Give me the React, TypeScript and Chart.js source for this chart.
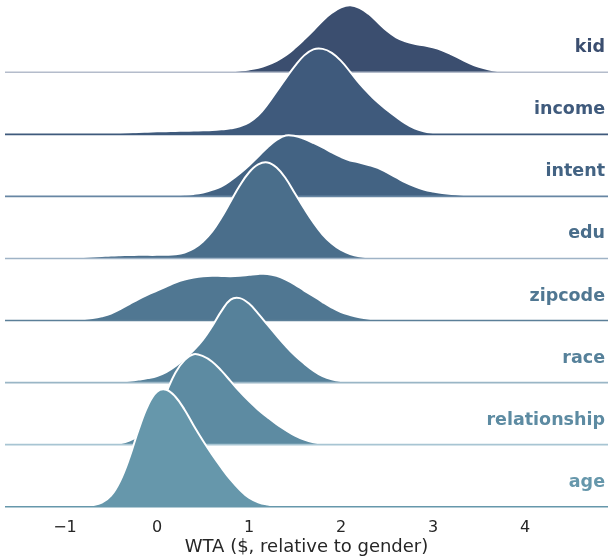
import { useEffect, useRef } from 'react';
import { Chart, registerables } from 'chart.js';

Chart.register(...registerables);

const _ = null;

const X_GRID = [
  -1.6, -1.5, -1.4, -1.3, -1.2, -1.1, -1.0, -0.9, -0.8, -0.7,
  -0.6, -0.5, -0.4, -0.3, -0.2, -0.1, 0.0, 0.1, 0.2, 0.3,
  0.4, 0.5, 0.6, 0.7, 0.8, 0.9, 1.0, 1.1, 1.2, 1.3,
  1.4, 1.5, 1.6, 1.7, 1.8, 1.9, 2.0, 2.1, 2.2, 2.3,
  2.4, 2.5, 2.6, 2.7, 2.8, 2.9, 3.0, 3.1, 3.2, 3.3,
  3.4, 3.5, 3.6, 3.7, 3.8, 3.9, 4.0, 4.1, 4.2, 4.3,
  4.4, 4.5, 4.6, 4.7, 4.8,
];

const X_TICKS = [-1, 0, 1, 2, 3, 4];
const X_MIN = -1.652;
const X_MAX = 4.902;

const LABELS = ['kid', 'income', 'intent', 'edu', 'zipcode', 'race', 'relationship', 'age'];
const COLORS = ['#3b4e6f', '#3f5a7c', '#436383', '#4a6e8b', '#507792', '#56819a', '#5d8ba2', '#6697ab'];
const BASELINE_COLORS = ['#b4bccb', '#3f5a7c', '#6786a3', '#9fb3c6', '#5b7f98', '#9ab6c6', '#a8c5d3', '#6697ab'];

// density estimates on X_GRID (null = outside KDE support)
const KID = [
  _, _, _, _, _, _, _, _, _, _,
  _, _, _, _, _, _, _, _, 0, 0.001,
  0.002, 0.003, 0.005, 0.008, 0.012, 0.019, 0.029, 0.046, 0.075, 0.115,
  0.17, 0.245, 0.33, 0.42, 0.515, 0.595, 0.65, 0.67, 0.645, 0.585,
  0.50, 0.415, 0.35, 0.31, 0.285, 0.27, 0.25, 0.22, 0.18, 0.135,
  0.09, 0.055, 0.03, 0.014, 0.006, 0.003, 0.001, 0.0005, 0, _,
  _, _, _, _, _,
];

const INCOME = [
  _, _, _, _, _, _, _, _, _, 0,
  0.004, 0.009, 0.014, 0.019, 0.024, 0.027, 0.03, 0.032, 0.034, 0.036,
  0.038, 0.04, 0.043, 0.05, 0.06, 0.08, 0.12, 0.19, 0.30, 0.43,
  0.56, 0.685, 0.79, 0.85, 0.855, 0.815, 0.735, 0.625, 0.51, 0.41,
  0.32, 0.245, 0.175, 0.11, 0.06, 0.03, 0.013, 0.005, 0.002, 0,
  _, _, _, _, _, _, _, _, _, _,
  _, _, _, _, _,
];

const INTENT = [
  _, _, _, _, _, _, _, _, _, _,
  _, _, _, _, 0, 0.001, 0.003, 0.006, 0.01, 0.016,
  0.025, 0.04, 0.065, 0.10, 0.16, 0.23, 0.31, 0.40, 0.49, 0.565,
  0.61, 0.605, 0.575, 0.535, 0.49, 0.44, 0.395, 0.36, 0.34, 0.315,
  0.285, 0.24, 0.19, 0.14, 0.10, 0.07, 0.05, 0.035, 0.024, 0.017,
  0.013, 0.01, 0.008, 0.006, 0.005, 0.004, 0.003, 0.0025, 0.002, 0.0015,
  0.001, 0.0005, 0, _, _,
];

const EDU = [
  _, _, _, 0, 0.002, 0.004, 0.007, 0.011, 0.015, 0.02,
  0.025, 0.03, 0.033, 0.035, 0.036, 0.036, 0.036, 0.037, 0.042, 0.06,
  0.10, 0.17, 0.27, 0.41, 0.57, 0.73, 0.86, 0.94, 0.96, 0.91,
  0.80, 0.65, 0.50, 0.36, 0.24, 0.15, 0.085, 0.045, 0.022, 0.01,
  0.004, 0, _, _, _, _, _, _, _, _,
  _, _, _, _, _, _, _, _, _, _,
  _, _, _, _, _,
];

const ZIPCODE = [
  _, _, 0, 0.001, 0.002, 0.004, 0.006, 0.009, 0.015, 0.025,
  0.043, 0.07, 0.115, 0.165, 0.215, 0.26, 0.30, 0.34, 0.38, 0.41,
  0.43, 0.443, 0.448, 0.446, 0.444, 0.448, 0.457, 0.466, 0.466, 0.447,
  0.41, 0.36, 0.30, 0.245, 0.185, 0.13, 0.085, 0.055, 0.032, 0.017,
  0.009, 0.005, 0.003, 0.002, 0.001, 0.0005, 0, _, _, _,
  _, _, _, _, _, _, _, _, _, _,
  _, _, _, _, _,
];

const RACE = [
  _, _, _, _, _, _, _, _, 0, 0.001,
  0.002, 0.004, 0.009, 0.018, 0.03, 0.045, 0.066, 0.105, 0.165, 0.24,
  0.325, 0.43, 0.565, 0.715, 0.83, 0.845, 0.79, 0.69, 0.58, 0.47,
  0.365, 0.27, 0.19, 0.12, 0.065, 0.032, 0.015, 0.008, 0.004, 0.003,
  0.002, 0.0015, 0.001, 0.0005, 0, _, _, _, _, _,
  _, _, _, _, _, _, _, _, _, _,
  _, _, _, _, _,
];

const RELATIONSHIP = [
  _, _, _, _, _, _, _, _, 0, 0.001,
  0.003, 0.007, 0.015, 0.04, 0.09, 0.17, 0.30, 0.52, 0.72, 0.845,
  0.905, 0.885, 0.83, 0.74, 0.635, 0.53, 0.435, 0.35, 0.275, 0.205,
  0.145, 0.09, 0.05, 0.024, 0.01, 0.004, 0.002, 0, _, _,
  _, _, _, _, _, _, _, _, _, _,
  _, _, _, _, _, _, _, _, _, _,
  _, _, _, _, _,
];

const AGE = [
  _, _, _, _, _, _, 0, 0.002, 0.005, 0.015,
  0.04, 0.11, 0.26, 0.49, 0.77, 1.01, 1.15, 1.17, 1.10, 0.97,
  0.81, 0.66, 0.52, 0.39, 0.27, 0.17, 0.09, 0.045, 0.022, 0.01,
  0.005, 0.0025, 0.001, 0, _, _, _, _, _, _,
  _, _, _, _, _, _, _, _, _, _,
  _, _, _, _, _, _, _, _, _, _,
  _, _, _, _, _,
];

const SERIES = [KID, INCOME, INTENT, EDU, ZIPCODE, RACE, RELATIONSHIP, AGE];

// rows per density unit
const HEIGHT_SCALE = 1.611;
const Y_MIN = -0.0806;
const Y_MAX = 8.165;

export default function App() {
  const ref = useRef<HTMLCanvasElement | null>(null);

  useEffect(() => {
    document.body.style.margin = '0';
    const canvas = ref.current;
    if (!canvas) return;
    const n = LABELS.length;
    const datasets: any[] = [];
    LABELS.forEach((lab, k) => {
      const row = n - 1 - k;
      const s = SERIES[k];
      datasets.push({
        label: lab,
        data: X_GRID.map((x, i) => ({ x, y: s[i] == null ? null : row + (s[i] as number) * HEIGHT_SCALE })),
        borderColor: '#ffffff',
        borderWidth: 2,
        backgroundColor: COLORS[k],
        fill: { value: row },
        pointRadius: 0,
        tension: 0.4,
        spanGaps: false,
        order: 100 - 2 * k,
      });
      datasets.push({
        label: lab + '-base',
        data: [{ x: X_MIN, y: row }, { x: X_MAX, y: row }],
        borderColor: BASELINE_COLORS[k],
        borderWidth: 1.6,
        pointRadius: 0,
        fill: false,
        order: 99 - 2 * k,
      });
    });

    const labelPlugin = {
      id: 'ridgeLabels',
      afterDatasetsDraw(chart: any) {
        const { ctx, chartArea, scales } = chart;
        ctx.save();
        ctx.font = 'bold 17.5px "DejaVu Sans"';
        ctx.textAlign = 'right';
        ctx.textBaseline = 'alphabetic';
        LABELS.forEach((lab, k) => {
          const row = n - 1 - k;
          ctx.fillStyle = COLORS[k];
          ctx.fillText(lab, chartArea.right - 3, scales.y.getPixelForValue(row) - 20);
        });
        ctx.restore();
      },
    };

    const chart = new Chart(canvas, {
      type: 'line',
      data: { datasets },
      options: {
        responsive: false,
        animation: false,
        events: [],
        layout: { padding: { left: 5, right: 1, top: 0, bottom: 0 } },
        plugins: { legend: { display: false }, tooltip: { enabled: false } },
        scales: {
          x: {
            type: 'linear',
            min: X_MIN,
            max: X_MAX,
            grid: { display: false },
            border: { display: false },
            afterBuildTicks: (s: any) => {
              s.ticks = X_TICKS.map((v) => ({ value: v }));
            },
            afterFit: (s: any) => {
              s.height = 47.3;
            },
            ticks: {
              padding: -1,
              color: '#262626',
              autoSkip: false,
              maxRotation: 0,
              font: { family: 'DejaVu Sans', size: 16 },
              callback: (v: any) => (Number(v) < 0 ? '\u2212' + Math.abs(Number(v)) : String(v)),
            },
            title: {
              display: true,
              text: 'WTA ($, relative to gender)',
              color: '#262626',
              font: { family: 'DejaVu Sans', size: 18 },
              padding: { top: 0, bottom: 1 },
            },
          },
          y: {
            type: 'linear',
            display: false,
            min: Y_MIN,
            max: Y_MAX,
          },
        },
      },
      plugins: [labelPlugin],
    });
    return () => chart.destroy();
  }, []);

  return <canvas ref={ref} width={609} height={559} style={{ display: 'block' }} />;
}
